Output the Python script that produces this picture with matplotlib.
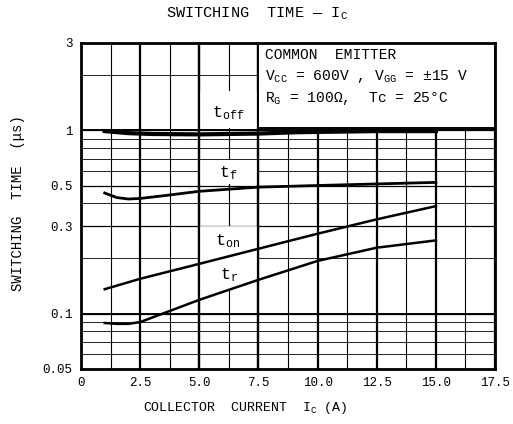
import numpy as np
import matplotlib
matplotlib.use("Agg")
import matplotlib.pyplot as plt
from matplotlib.patches import Rectangle
from matplotlib.ticker import FixedLocator, NullFormatter

plt.rcParams["font.family"] = ["Liberation Mono", "DejaVu Sans"]
plt.rcParams["mathtext.fontset"] = "custom"
plt.rcParams["mathtext.rm"] = "Liberation Mono"
plt.rcParams["mathtext.it"] = "Liberation Mono"

# ── data ───────────────────────────────────────────────────────────
ic_toff = [1.0, 2.0, 3.0, 5.0, 7.5, 9.0, 10.0, 12.5, 15.0]
t_off   = [0.99, 0.965, 0.955, 0.95, 0.96, 0.975, 0.98, 0.99, 0.99]

ic_tf = [1.0, 1.5, 2.0, 2.5, 3.5, 5.0, 7.5, 10.0, 12.5, 15.0]
t_f   = [0.455, 0.43, 0.422, 0.425, 0.44, 0.465, 0.49, 0.50, 0.51, 0.52]

ic_ton = [1.0, 2.5, 5.0, 7.5, 10.0, 12.5, 15.0]
t_on   = [0.136, 0.155, 0.187, 0.226, 0.273, 0.327, 0.386]

ic_tr = [1.0, 1.5, 2.0, 2.5, 5.0, 7.5, 10.0, 12.5, 15.0]
t_r   = [0.089, 0.088, 0.088, 0.090, 0.119, 0.153, 0.194, 0.229, 0.251]

y_major = [0.05, 0.1, 0.3, 0.5, 1, 3]
y_major_labels = ["0.05", "0.1", "0.3", "0.5", "1", "3"]
y_minor = [0.06, 0.07, 0.08, 0.09, 0.2, 0.4, 0.6, 0.7, 0.8, 0.9, 2]
x_major = [0, 2.5, 5.0, 7.5, 10.0, 12.5, 15.0, 17.5]
x_major_labels = ["0", "2.5", "5.0", "7.5", "10.0", "12.5", "15.0", "17.5"]

fig = plt.figure(figsize=(5.13, 4.24), dpi=100)
ax = fig.add_axes([0.158, 0.13, 0.807, 0.769])
ax.set_yscale("log")
ax.set_xlim(0, 17.5)
ax.set_ylim(0.05, 3)

ax.yaxis.set_major_locator(FixedLocator(y_major))
ax.yaxis.set_minor_locator(FixedLocator(y_minor))
ax.yaxis.set_minor_formatter(NullFormatter())
ax.set_yticklabels(y_major_labels)
ax.set_xticks(x_major)
ax.set_xticklabels(x_major_labels)
ax.xaxis.set_minor_locator(FixedLocator(np.arange(1.25, 17.5, 2.5)))
ax.tick_params(which="both", length=0, labelsize=9, pad=6)

ax.set_axisbelow(True)
ax.grid(True, axis="x", which="major", color="black", lw=1.6, zorder=0.5)
ax.grid(True, axis="x", which="minor", color="black", lw=0.8, zorder=0.5)
ax.grid(True, axis="y", which="major", color="black", lw=0.9, zorder=0.5)
ax.grid(True, axis="y", which="minor", color="black", lw=0.6, zorder=0.5)
for v in (1, 0.1):
    ax.axhline(v, color="black", lw=1.4, zorder=0.6)
for s in ax.spines.values():
    s.set_linewidth(2)

# blank label areas cut out of the grid between 5 and 7.5 A
wkw = dict(facecolor="white", edgecolor="none", zorder=0.7)
ax.add_patch(Rectangle((5.0, 1.035), 2.5, 0.6, **wkw))
ax.add_patch(Rectangle((5.0, 0.51), 2.5, 0.18, **wkw))
xs = np.linspace(5.0, 7.5, 20)
ax.fill_between(xs, np.interp(xs, ic_tr, t_r), 0.3, **wkw)
for v in (5.0, 7.5):
    ax.axvline(v, color="black", lw=1.6, zorder=0.8)

# white info box in the upper right
ax.add_patch(Rectangle((7.5, 1.03), 10.0, 3 - 1.03, facecolor="white",
                       edgecolor="black", lw=1.4, zorder=1))

ax.plot(ic_toff, t_off, color="black", lw=3, zorder=3)
ax.plot(ic_tf, t_f, color="black", lw=2, zorder=3)
ax.plot(ic_ton, t_on, color="black", lw=1.8, zorder=3)
ax.plot(ic_tr, t_r, color="black", lw=1.8, zorder=3)

ax.text(6.2, 1.24, r"$\mathrm{t_{off}}$", fontsize=12, ha="center", va="center", zorder=2)
ax.text(6.2, 0.585, r"$\mathrm{t_{f}}$", fontsize=12, ha="center", va="center", zorder=2)
ax.text(6.2, 0.25, r"$\mathrm{t_{on}}$", fontsize=12, ha="center", va="center", zorder=2)
ax.text(6.25, 0.162, r"$\mathrm{t_{r}}$", fontsize=12, ha="center", va="center", zorder=2)

ax.text(0.445, 0.963, "COMMON  EMITTER", transform=ax.transAxes, fontsize=10.5,
        va="center", zorder=2)
ax.text(0.445, 0.896, r"$\mathrm{V_{CC}}$ = 600V , $\mathrm{V_{GG}}$ = ±15 V",
        transform=ax.transAxes, fontsize=10.5, va="center", zorder=2)
ax.text(0.445, 0.828, r"$\mathrm{R_{G}}$ = 100Ω,  Tc = 25°C",
        transform=ax.transAxes, fontsize=10.5, va="center", zorder=2)

fig.text(0.5, 0.967, r"SWITCHING  TIME — $\mathrm{I_C}$", ha="center", va="center", fontsize=11)
fig.text(0.478, 0.038, r"COLLECTOR  CURRENT  $\mathrm{I_C}$ (A)", ha="center",
         va="center", fontsize=9.5)
fig.text(0.035, 0.521, "SWITCHING  TIME  (μs)", ha="center", va="center",
         rotation=90, fontsize=10)

fig.savefig("out.png", dpi=100)
